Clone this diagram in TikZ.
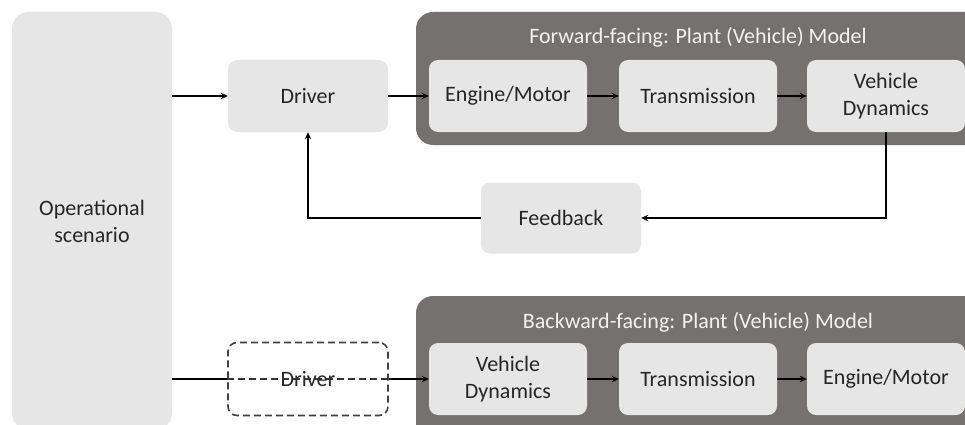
\documentclass[tikz,border=0pt]{standalone}
\usepackage{fontspec}
\setmainfont{Carlito}
\usetikzlibrary{arrows.meta}
\definecolor{lbox}{HTML}{E7E6E6}
\definecolor{dbox}{HTML}{767171}
\definecolor{txt}{HTML}{262626}
\definecolor{ttl}{HTML}{F2F2F2}
\tikzset{
  lbx/.style={fill=lbox, rounded corners=9pt, minimum width=158pt, minimum height=72pt,
    font=\fontsize{22}{27}\selectfont, text=txt, align=center, inner sep=0pt},
  panel/.style={fill=dbox, rounded corners=17pt, inner sep=0pt},
  paneltitle/.style={font=\fontsize{22}{27}\selectfont, text=ttl, inner sep=0pt},
  arr/.style={line width=1.8pt, draw=black, -{Stealth[length=7pt,width=6.5pt]}},
  plainline/.style={line width=1.8pt, draw=black},
  dashline/.style={line width=1.6pt, draw=black!80, dash pattern=on 7pt off 4pt},
}
\begin{document}
\begin{tikzpicture}[x=1pt,y=-1pt]
\clip (0,0) rectangle (965,425);
\fill[white] (0,0) rectangle (965,425);
% panels
\node[panel, minimum width=160pt, minimum height=418pt, fill=lbox, font=\fontsize{22}{27}\selectfont, text=txt, align=center] (op) at (92,221) {Operational\\scenario};
\node[panel, minimum width=574pt, minimum height=133pt] (fwd) at (703,78.5) {};
\node[panel, minimum width=574pt, minimum height=154pt] (bwd) at (703,373) {};
\node[paneltitle] (fwdt) at (698,37) {Forward-facing: Plant (Vehicle) Model};
\node[paneltitle] (bwdt) at (698,322) {Backward-facing: Plant (Vehicle) Model};
% top row
\node[lbx, minimum width=160pt] (drv) at (308,96) {Driver};
\node[lbx] (feng) at (508,96) {Engine/Motor};
\node[lbx] (ftr) at (698,96) {Transmission};
\node[lbx] (fvd) at (886,96) {Vehicle\\Dynamics};
\node[lbx, minimum width=160pt, minimum height=71pt] (fb) at (561,218) {Feedback};
% bottom row
\node[lbx, fill=none, draw=black!75, line width=1.6pt, dash pattern=on 7pt off 4pt, minimum width=160pt, minimum height=73pt] (ddrv) at (308,379) {Driver};
\node[lbx] (bvd) at (508,379) {Vehicle\\Dynamics};
\node[lbx] (btr) at (698,379) {Transmission};
\node[lbx] (beng) at (886,379) {Engine/Motor};
% connectors top
\draw[arr] (op.east |- drv.west) -- (drv.west);
\draw[arr] (drv.east) -- (feng.west);
\draw[arr] (feng.east) -- (ftr.west);
\draw[arr] (ftr.east) -- (fvd.west);
\draw[arr] (fvd.south) |- (fb.east);
\draw[arr] (fb.west) -| (drv.south);
% connectors bottom
\draw[plainline] (op.east |- ddrv.west) -- (ddrv.west);
\draw[dashline] (ddrv.west) -- (ddrv.east);
\draw[arr] (ddrv.east) -- (bvd.west);
\draw[arr] (bvd.east) -- (btr.west);
\draw[arr] (btr.east) -- (beng.west);
\end{tikzpicture}
\end{document}
